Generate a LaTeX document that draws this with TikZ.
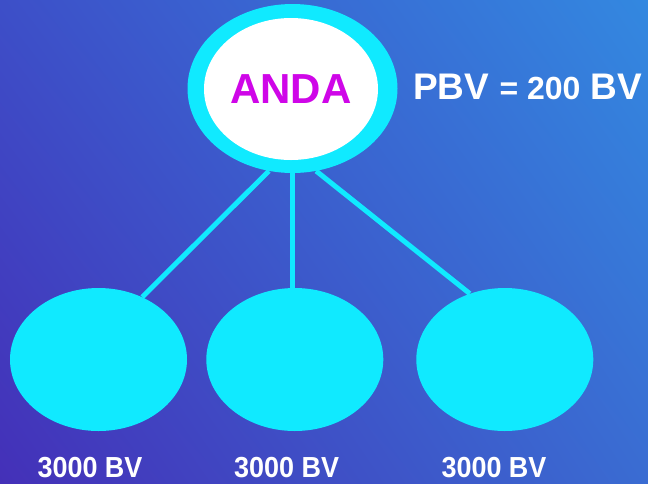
\documentclass[tikz,border=0pt]{standalone}
\usepackage{fontspec}
\setmainfont{Liberation Sans}
\usetikzlibrary{shapes.geometric,shadings}
\definecolor{cyanc}{HTML}{10EAFF}
\definecolor{anda}{HTML}{CF06E8}
\definecolor{bgTL}{HTML}{3D4FC8}
\definecolor{bgBL}{HTML}{4430B8}
\definecolor{bgTR}{HTML}{3388E0}
\definecolor{bgBR}{HTML}{3A6CD2}
\tikzset{
  ring/.style={ellipse, fill=cyanc, inner sep=0pt, minimum width=210pt, minimum height=169pt},
  core/.style={ellipse, fill=white, inner sep=0pt, minimum width=174pt, minimum height=142pt,
    text=anda, font=\fontsize{42}{44}\selectfont\bfseries},
  leaf/.style={ellipse, fill=cyanc, inner sep=0pt, minimum width=177pt, minimum height=143pt},
  link/.style={draw=cyanc, line width=5pt},
  val/.style={text=white, inner sep=0pt, anchor=base, xscale=0.93, font=\fontsize{29}{31}\selectfont\bfseries},
}
\begin{document}
\begin{tikzpicture}[x=1pt,y=-1pt]
\shade[lower left=bgBL, upper left=bgTL, upper right=bgTR, lower right=bgBR] (0,0) rectangle (648,483);
\useasboundingbox (0,0) rectangle (648,483);
\node[leaf] (left) at (98.5,359.5) {};
\node[leaf] (mid) at (294.8,359.5) {};
\node[leaf] (right) at (504.8,359.5) {};
\node[ring] (top) at (292.5,88.5) {};
\draw[link] (top.254) -- (left.55);
\draw[link] (top.south) -- (top.south |- mid.north);
\draw[link] (top.286) -- (right.118);
\node[core] (anda) at (291,89) {ANDA};
\node[text=white, inner sep=0pt, anchor=base west, font=\fontsize{37}{39}\selectfont\bfseries] (pbv) at (413,99) {PBV {\fontsize{32}{34}\selectfont= 200} BV};
\node[val] (l1) at (90,477.5) {3000 BV};
\node[val] (l2) at (286.6,477.5) {3000 BV};
\node[val] (l3) at (494,477.5) {3000 BV};
\end{tikzpicture}
\end{document}
